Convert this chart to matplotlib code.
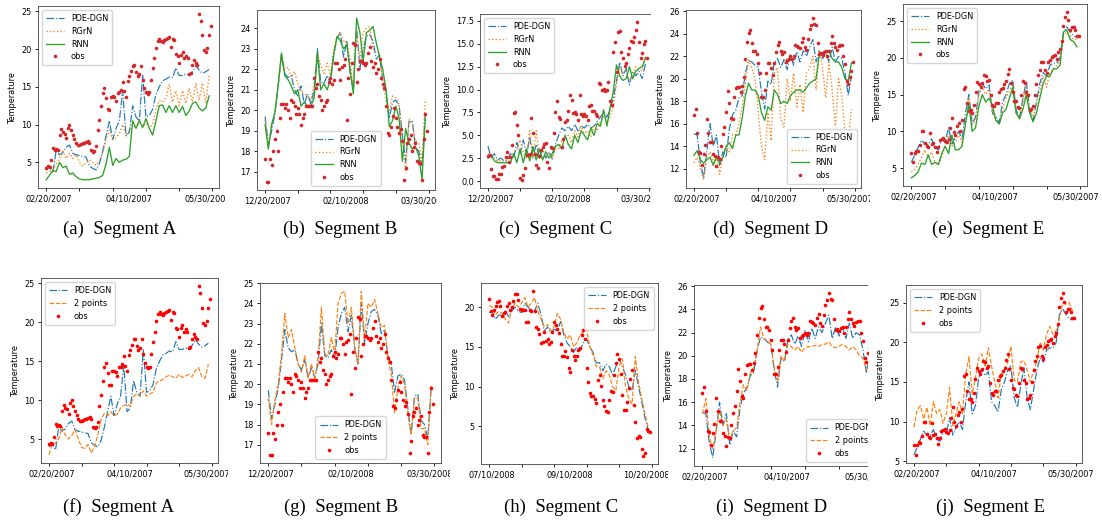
import numpy as np
import matplotlib
matplotlib.use("Agg")
import matplotlib.pyplot as plt
from matplotlib.transforms import Bbox, TransformedBbox

# daily observations (100 days) and model outputs (every second day)
days_obs = np.arange(100)
days_fit = np.arange(0, 100, 2)

# ---- Segment A (02/20/2007 - 05/30/2007)
a_obs = [4.3, 4.5, 4.4, 5.3, 6.9, 6.7, 6.8, 6.7, 8.6, 9.4,
         9.0, 8.8, 8.2, 9.6, 10.0, 9.3, 8.6, 8.1, 7.6, 7.3,
         7.3, 7.4, 7.6, 7.6, 7.7, 7.8, 7.6, 6.6, 6.4, 6.5,
         7.2, 9.3, 10.6, 12.4, 14.2, 14.8, 13.5, 12.0, 11.9, 13.7,
         13.8, 13.6, 13.1, 14.2, 14.3, 14.6, 15.7, 14.4, 13.7, 15.8,
         16.4, 17.1, 17.8, 17.9, 17.0, 16.4, 16.7, 17.8, 15.9, 14.8,
         14.3, 14.1, 14.3, 15.9, 17.5, 18.8, 20.1, 21.1, 21.3, 21.0,
         20.9, 21.2, 21.3, 21.5, 21.6, 20.3, 21.3, 21.2, 19.3, 19.1,
         18.1, 19.2, 19.6, 18.8, 19.1, 18.8, 16.7, 16.8, 17.9, 18.5,
         18.1, 17.9, 24.6, 23.7, 21.8, 19.9, 19.6, 20.2, 21.8, 23.0]
a_pde = [4.0, 4.4, 3.6, 6.6, 6.0, 6.3, 7.0, 7.3, 6.2, 6.0,
         5.9, 5.8, 5.7, 4.5, 4.2, 4.0, 4.8, 6.5, 8.5, 10.5,
         8.0, 9.5, 10.5, 14.5, 8.5, 9.0, 12.5, 11.0, 10.5, 16.5,
         11.0, 11.2, 12.0, 14.0, 15.0, 15.8, 16.0, 16.3, 16.2, 17.5,
         16.5, 16.5, 16.7, 16.5, 17.0, 17.8, 17.2, 16.8, 17.0, 17.3]
a_rgrn = [3.6, 3.8, 4.0, 4.8, 5.5, 6.5, 5.5, 6.2, 5.5, 6.0,
          5.0, 4.5, 5.0, 5.3, 5.0, 4.6, 5.2, 6.2, 8.0, 9.3,
          8.0, 8.3, 8.8, 10.0, 8.6, 9.2, 10.0, 9.5, 10.3, 9.7,
          10.2, 9.6, 10.0, 12.0, 13.2, 13.0, 13.5, 15.3, 13.0, 14.5,
          12.5, 14.5, 12.8, 14.8, 13.0, 15.5, 13.2, 15.5, 12.8, 16.5]
a_rnn = [2.7, 3.3, 3.9, 3.8, 5.0, 4.3, 4.5, 3.4, 3.6, 3.1,
         2.8, 2.7, 2.7, 2.7, 2.8, 2.9, 3.0, 3.3, 4.8, 7.0,
         4.6, 5.5, 5.0, 5.3, 5.4, 5.8, 10.5, 9.5, 10.6, 9.6,
         10.8, 9.5, 8.6, 10.5, 12.5, 12.6, 11.6, 12.5, 11.6, 12.5,
         11.6, 12.4, 11.2, 11.8, 12.8, 13.0, 12.2, 11.8, 12.2, 13.8]
a_two = [3.0, 4.4, 4.5, 5.0, 6.5, 5.5, 5.0, 5.5, 6.2, 5.0,
         3.9, 3.8, 4.3, 3.2, 4.0, 5.5, 7.5, 8.3, 8.0, 8.5,
         8.0, 8.2, 9.0, 9.3, 9.5, 9.2, 10.5, 10.8, 10.5, 11.2,
         10.5, 10.8, 11.0, 12.2, 12.5, 12.6, 13.0, 13.2, 13.0, 12.8,
         13.3, 12.9, 13.1, 13.3, 13.0, 13.8, 14.2, 13.0, 12.8, 14.6]

# ---- Segment B (12/20/2007 - 03/30/2008)
b_obs = [17.6, 16.5, 16.5, 17.6, 17.3, 18.0, 18.6, 19.0, 18.0, 19.6,
         20.3, 20.3, 20.1, 20.3, 20.0, 19.6, 20.5, 20.4, 20.2, 19.8,
         20.1, 19.8, 19.3, 19.6, 19.8, 20.2, 20.2, 20.2, 20.2, 20.2,
         21.6, 21.1, 21.3, 20.7, 20.5, 20.0, 20.2, 20.4, 20.5, 21.4,
         21.6, 21.3, 21.5, 22.3, 22.3, 22.0, 21.5, 22.1, 22.2, 22.5,
         19.5, 21.6, 20.8, 22.3, 23.3, 23.2, 21.4, 22.0, 22.4, 22.4,
         22.3, 22.2, 22.3, 22.8, 23.1, 22.4, 22.1, 22.3, 21.8, 22.0,
         22.5, 21.6, 21.3, 21.1, 20.2, 18.9, 18.8, 19.2, 19.7, 20.1,
         19.6, 19.2, 18.9, 19.1, 18.5, 16.6, 17.2, 18.4, 18.6, 18.8,
         18.0, 18.2, 18.4, 17.5, 17.4, 17.4, 16.6, 18.6, 19.8, 19.0]
b_pde = [19.7, 18.3, 19.0, 19.8, 21.2, 22.7, 21.8, 21.6, 21.7, 21.0,
         20.7, 21.2, 20.3, 20.8, 20.3, 21.0, 23.0, 21.4, 21.3, 21.7,
         21.3, 22.8, 23.5, 23.8, 22.6, 23.4, 21.8, 21.0, 24.0, 22.0,
         23.0, 23.6, 23.7, 23.4, 22.5, 22.7, 21.4, 21.0, 19.6, 20.4,
         20.5, 20.2, 18.8, 17.5, 19.4, 19.5, 18.2, 18.0, 17.3, 19.8]
b_rgrn = [19.5, 18.3, 19.3, 19.9, 21.3, 22.7, 22.0, 22.1, 21.6, 21.9,
          21.3, 20.9, 20.8, 20.7, 20.5, 21.3, 22.8, 22.2, 21.8, 22.3,
          21.7, 23.0, 23.6, 23.8, 23.3, 23.4, 22.5, 21.0, 23.9, 22.5,
          23.8, 24.0, 24.1, 23.0, 22.8, 22.8, 21.3, 20.5, 20.0, 20.7,
          20.6, 20.3, 18.5, 17.0, 19.6, 19.4, 18.5, 18.4, 17.5, 20.5]
b_rnn = [19.3, 18.1, 19.3, 19.9, 21.2, 22.8, 21.7, 21.5, 21.2, 20.8,
         21.0, 20.2, 20.4, 20.2, 20.2, 20.6, 22.8, 21.0, 21.3, 21.0,
         21.5, 22.7, 23.6, 23.4, 23.0, 23.2, 22.0, 20.8, 24.5, 23.8,
         22.4, 23.8, 23.9, 24.1, 23.3, 22.6, 22.0, 21.0, 19.2, 19.5,
         20.2, 19.6, 17.5, 19.1, 18.4, 18.1, 18.2, 17.8, 16.6, 19.6]
b_two = [19.3, 18.0, 19.2, 20.0, 21.5, 23.5, 22.3, 22.7, 21.8, 21.0,
         20.6, 21.4, 20.3, 21.0, 20.3, 21.3, 23.8, 21.5, 21.4, 22.3,
         21.5, 24.0, 24.5, 24.6, 23.0, 23.8, 21.9, 21.0, 24.6, 22.2,
         24.0, 23.8, 24.2, 23.5, 22.8, 22.9, 21.2, 20.5, 18.6, 19.8,
         20.4, 20.0, 18.5, 17.5, 19.3, 19.3, 17.8, 17.8, 17.0, 19.9]

# ---- Segment C, top row (12/20/2007 - 03/30/2008)
c_obs = [2.7, 2.8, 1.3, 0.5, 0.5, 0.2, 0.2, 0.8, 0.8, 1.5,
         1.6, 2.6, 3.2, 2.1, 2.6, 3.9, 7.4, 7.6, 6.1, 5.0,
         0.3, 0.1, 0.7, 1.4, 2.8, 2.8, 2.9, 6.9, 5.3, 3.0,
         1.7, 1.4, 2.7, 3.4, 3.7, 4.1, 4.2, 2.1, 1.4, 3.7,
         3.6, 5.2, 7.6, 8.8, 7.0, 6.8, 3.7, 4.6, 6.5, 6.7,
         7.7, 9.4, 8.9, 7.4, 7.6, 7.3, 6.7, 9.4, 7.3, 7.1,
         7.3, 7.1, 6.7, 8.2, 8.3, 7.7, 7.7, 7.3, 7.1, 10.7,
         10.6, 9.9, 10.1, 9.8, 10.0, 10.8, 8.8, 8.3, 14.1, 15.2,
         11.9, 16.3, 16.4, 14.1, 13.4, 12.6, 12.9, 13.9, 14.5, 15.3,
         15.2, 15.8, 16.5, 17.4, 15.2, 13.5, 14.0, 15.0, 15.3, 13.5]
c_pde = [3.8, 2.5, 3.0, 2.3, 2.5, 2.2, 2.3, 3.0, 2.5, 4.2,
         3.0, 4.5, 2.8, 4.8, 2.6, 4.0, 2.5, 3.5, 2.5, 3.2,
         2.4, 4.0, 5.0, 5.8, 5.5, 6.0, 5.5, 6.2, 5.5, 6.0,
         5.8, 6.2, 5.8, 6.0, 6.5, 7.0, 7.5, 7.0, 7.8, 9.0,
         11.0, 13.0, 11.5, 12.3, 10.5, 12.0, 11.5, 12.0, 11.2, 12.8]
c_rgrn = [3.0, 2.8, 2.5, 2.2, 2.2, 2.0, 2.2, 2.8, 3.0, 3.5,
          4.5, 3.0, 2.5, 5.5, 2.5, 5.5, 2.8, 2.5, 2.8, 3.0,
          2.5, 3.5, 3.5, 4.5, 4.5, 5.0, 4.2, 5.5, 4.8, 6.0,
          5.2, 5.5, 4.8, 6.0, 5.5, 6.5, 7.0, 6.5, 7.0, 8.2,
          10.5, 12.5, 11.8, 12.0, 11.0, 11.5, 12.5, 12.2, 12.0, 13.5]
c_rnn = [2.5, 2.8, 2.2, 2.0, 2.0, 2.0, 2.0, 2.0, 3.0, 2.0,
         3.5, 2.0, 3.5, 2.2, 3.8, 2.3, 3.5, 2.3, 3.2, 2.5,
         3.0, 3.8, 4.0, 3.5, 5.0, 4.0, 3.5, 5.0, 4.2, 5.5,
         5.0, 4.5, 5.8, 5.0, 6.3, 6.0, 7.8, 6.0, 8.0, 9.8,
         12.7, 11.5, 11.0, 11.2, 12.5, 11.2, 12.0, 12.3, 12.5, 13.5]

# ---- Segment C, bottom row (07/10/2008 - 10/20/2008)
h_obs = [21.0, 19.5, 19.0, 19.6, 20.2, 20.6, 20.8, 20.2, 18.9, 19.2,
         19.4, 20.2, 20.5, 19.6, 20.0, 20.8, 21.7, 21.6, 20.9, 19.8,
         19.7, 19.7, 19.6, 18.1, 18.1, 19.7, 19.5, 22.0, 19.5, 17.5,
         17.2, 16.6, 15.5, 15.6, 16.9, 15.8, 16.0, 15.4, 15.6, 16.9,
         18.1, 17.7, 17.3, 16.7, 15.4, 13.8, 13.8, 14.5, 13.7, 12.3,
         11.9, 14.6, 13.9, 13.4, 13.9, 14.6, 14.8, 16.5, 17.1, 16.0,
         12.4, 10.6, 9.2, 8.8, 8.8, 8.4, 8.0, 10.8, 11.5, 10.1,
         8.3, 7.5, 6.9, 6.8, 8.3, 9.4, 9.3, 11.5, 13.0, 14.1,
         13.5, 11.6, 9.0, 7.0, 7.1, 8.1, 9.8, 11.0, 12.1, 7.7,
         5.6, 3.5, 3.8, 3.7, 2.1, 1.3, 1.6, 4.7, 4.4, 4.3]
h_pde = [19.3, 19.5, 18.5, 19.0, 19.0, 19.5, 18.8, 19.5, 20.0, 19.5,
         19.3, 20.5, 20.0, 19.5, 19.5, 20.5, 19.0, 17.0, 17.5, 16.8,
         17.2, 17.0, 18.2, 16.5, 15.5, 15.0, 14.3, 15.0, 14.5, 15.5,
         16.0, 15.0, 14.3, 13.0, 13.0, 12.0, 12.8, 12.5, 11.5, 12.5,
         13.5, 12.5, 11.5, 10.0, 9.5, 12.0, 10.0, 8.0, 6.0, 4.5]
h_two = [20.2, 20.0, 19.0, 19.5, 19.2, 18.5, 18.0, 19.8, 20.5, 20.0,
         20.5, 21.2, 20.0, 20.5, 21.2, 19.5, 18.5, 17.5, 17.8, 17.0,
         17.5, 19.2, 18.5, 16.8, 16.0, 16.5, 15.0, 15.5, 16.5, 16.8,
         17.2, 15.0, 14.0, 12.5, 12.5, 11.0, 12.0, 11.5, 10.0, 9.5,
         12.5, 13.5, 10.0, 8.5, 7.8, 13.8, 10.5, 8.5, 6.5, 4.8]

# ---- Segment D (02/20/2007 - 05/30/2007)
d_obs = [16.8, 17.3, 15.2, 13.5, 13.4, 12.3, 13.3, 14.1, 16.4, 15.2,
         14.4, 14.4, 13.3, 13.1, 12.2, 13.0, 12.9, 14.0, 15.1, 15.7,
         17.0, 18.9, 17.8, 16.5, 16.4, 18.4, 19.2, 19.3, 19.3, 18.8,
         19.4, 20.2, 21.8, 23.3, 24.1, 24.3, 23.2, 22.5, 22.5, 22.2,
         21.4, 20.5, 18.4, 18.4, 19.0, 20.5, 21.4, 21.4, 21.0, 20.3,
         21.4, 22.4, 23.0, 23.3, 22.5, 22.2, 22.4, 21.5, 21.7, 21.8,
         22.0, 21.8, 22.0, 23.0, 22.9, 22.8, 22.7, 23.3, 23.6, 22.8,
         22.6, 23.5, 24.4, 24.8, 25.4, 24.9, 24.8, 23.2, 22.2, 22.3,
         22.1, 22.4, 22.5, 22.0, 22.5, 23.2, 23.8, 23.2, 22.8, 22.6,
         22.9, 23.0, 23.0, 22.0, 21.3, 19.8, 19.5, 20.2, 20.7, 21.5]
d_pde = [15.1, 15.0, 12.5, 11.2, 13.5, 16.0, 14.0, 15.0, 12.3, 13.5,
         13.0, 15.5, 16.8, 17.2, 18.3, 18.5, 20.5, 21.6, 21.5, 21.2,
         21.0, 18.8, 17.3, 19.8, 19.5, 21.4, 21.8, 21.0, 21.7, 20.8,
         22.2, 21.2, 22.4, 21.5, 22.5, 22.0, 22.8, 23.5, 21.5, 22.5,
         21.7, 22.5, 21.5, 22.8, 21.5, 22.0, 21.8, 20.5, 18.5, 20.3]
d_rgrn = [12.5, 13.0, 12.0, 11.0, 13.0, 13.5, 12.5, 13.2, 11.5, 13.0,
          14.0, 13.5, 15.0, 15.0, 16.0, 17.5, 19.5, 21.7, 21.0, 20.0,
          17.0, 14.0, 12.8, 17.0, 14.5, 20.5, 21.0, 16.5, 15.7, 20.0,
          18.0, 20.5, 17.5, 19.5, 17.0, 20.5, 21.0, 22.0, 19.0, 22.5,
          21.0, 18.3, 21.5, 19.0, 15.8, 20.0, 18.5, 15.2, 14.5, 17.3]
d_rnn = [13.2, 13.6, 12.8, 12.5, 12.8, 13.0, 12.3, 13.0, 12.5, 13.0,
         14.0, 14.3, 13.8, 15.0, 15.0, 16.5, 18.5, 19.6, 19.0, 19.0,
         18.5, 17.0, 16.3, 17.5, 17.2, 19.0, 18.6, 17.8, 18.0, 17.8,
         18.5, 18.8, 19.0, 19.0, 18.8, 19.2, 19.6, 19.8, 20.0, 22.2,
         22.3, 22.3, 22.5, 21.8, 21.5, 21.5, 21.0, 20.0, 19.8, 21.4]
d_two = [15.0, 16.3, 13.0, 12.0, 13.5, 15.3, 14.0, 14.5, 12.8, 13.5,
         13.8, 16.0, 17.5, 17.0, 18.5, 19.0, 20.5, 22.5, 21.5, 21.3,
         21.0, 19.0, 17.8, 20.0, 19.5, 21.0, 20.8, 20.5, 20.8, 20.3,
         20.7, 20.8, 20.8, 20.9, 20.8, 21.0, 21.0, 21.2, 20.8, 20.7,
         20.8, 21.0, 20.8, 20.5, 20.8, 20.5, 20.0, 19.8, 18.8, 19.6]

# ---- Segment E (02/20/2007 - 05/30/2007)
e_obs = [7.0, 5.8, 7.0, 7.4, 7.3, 8.2, 10.0, 10.0, 8.4, 8.0,
         7.9, 9.8, 8.3, 8.4, 7.9, 7.2, 7.9, 8.8, 8.9, 9.1,
         8.7, 8.6, 9.0, 10.5, 11.8, 9.9, 9.5, 10.8, 11.2, 10.0,
         11.6, 15.8, 16.0, 13.9, 12.8, 12.9, 12.5, 13.6, 15.4, 16.7,
         16.4, 16.0, 16.6, 17.7, 17.5, 16.8, 17.0, 14.9, 13.6, 13.4,
         13.9, 13.8, 15.3, 15.7, 15.9, 16.4, 16.8, 17.8, 18.5, 16.6,
         15.3, 14.2, 14.1, 13.3, 13.2, 14.9, 16.8, 16.6, 15.3, 14.9,
         12.9, 13.0, 13.4, 15.0, 16.5, 17.7, 18.3, 19.4, 19.5, 18.3,
         17.9, 19.4, 19.7, 20.1, 20.3, 20.4, 19.9, 20.8, 21.2, 22.3,
         24.4, 25.6, 26.2, 25.1, 23.8, 24.2, 24.2, 23.8, 23.0, 23.0]
e_pde = [5.8, 6.8, 7.8, 8.8, 8.3, 8.2, 9.0, 7.8, 7.5, 9.0,
         8.5, 10.5, 8.3, 9.2, 10.0, 9.0, 12.5, 15.0, 11.0, 12.0,
         15.5, 16.5, 15.8, 16.3, 12.5, 12.0, 11.2, 14.0, 15.0, 16.5,
         17.0, 13.0, 11.8, 14.5, 16.8, 13.0, 11.5, 14.0, 16.5, 18.0,
         17.5, 19.0, 19.3, 19.3, 20.0, 23.5, 24.2, 23.5, 23.0, 22.8]
e_rgrn = [4.5, 4.8, 5.5, 6.5, 7.5, 6.5, 7.2, 5.8, 5.5, 6.5,
          8.0, 9.5, 8.0, 8.5, 9.5, 8.5, 11.0, 14.5, 11.0, 11.5,
          15.0, 16.0, 15.0, 15.8, 12.5, 11.5, 11.0, 13.0, 14.5, 15.5,
          16.5, 12.5, 12.0, 14.0, 16.0, 13.0, 12.0, 13.5, 15.5, 17.5,
          16.0, 18.0, 18.5, 19.0, 19.5, 23.0, 23.5, 23.0, 22.5, 22.5]
e_rnn = [3.7, 4.0, 4.5, 5.7, 5.5, 6.8, 5.5, 5.8, 5.5, 7.0,
         8.0, 7.0, 9.5, 7.5, 7.5, 8.0, 11.0, 13.7, 10.0, 10.5,
         13.5, 15.0, 14.0, 14.5, 13.5, 11.5, 11.0, 12.5, 13.0, 14.5,
         16.0, 12.5, 11.7, 13.0, 15.0, 12.5, 11.3, 12.5, 14.5, 16.5,
         17.5, 17.5, 18.5, 18.5, 19.0, 23.5, 23.8, 22.5, 22.2, 21.5]
e_two = [9.3, 11.5, 12.0, 10.3, 11.8, 9.5, 12.5, 11.0, 11.5, 9.8,
         11.0, 14.3, 9.5, 11.0, 12.5, 11.0, 16.0, 18.2, 13.5, 15.5,
         18.0, 18.5, 17.0, 19.3, 17.0, 15.0, 13.0, 16.0, 16.5, 17.5,
         19.5, 15.2, 15.0, 17.5, 17.7, 16.5, 15.0, 16.5, 17.5, 20.0,
         19.0, 21.0, 22.0, 21.0, 21.5, 23.0, 25.0, 24.8, 25.0, 24.0]

date_labels_07 = ["02/20/2007", "04/10/2007", "05/30/2007"]
date_labels_08 = ["12/20/2007", "02/10/2008", "03/30/2008"]
date_labels_c2 = ["07/10/2008", "09/10/2008", "10/20/2008"]

W, H = 1102, 522
fig = plt.figure(figsize=(W / 100, H / 100), dpi=100)
FS = 5.9


def make_panel(box, crop, obs, fits, xlabels, yticks, loc, obs_color, caption):
    l, t, r, b = box
    ax = fig.add_axes([l / W, 1 - b / H, (r - l) / W, (b - t) / H])
    for name, vals, ls, col, lw in fits:
        ax.plot(days_fit, vals, ls=ls, color=col, lw=lw, label=name)
    ax.plot(days_obs, obs, ls="none", marker="o", ms=2.6, mew=0,
            color=obs_color, label="obs")
    ax.set_xticks([1.5, 49.5, 97], xlabels)
    ax.set_xticks([0, 20, 40, 60, 80, 100], minor=True)
    ax.tick_params(axis="x", which="major", length=0, pad=5, labelsize=FS)
    ax.tick_params(axis="x", which="minor", length=2.5, width=0.6)
    ax.set_yticks(yticks)
    ax.tick_params(axis="y", length=2.5, width=0.6, pad=2, labelsize=FS)
    ax.set_ylabel("Temperature", fontsize=FS, labelpad=3)
    for sp in ax.spines.values():
        sp.set_linewidth(0.6)
        sp.set_color("#444444")
    ax.legend(loc=loc, fontsize=FS, handlelength=2.2, borderpad=0.5,
              labelspacing=0.45)

    # each panel in the reference is a cropped picture: clip at crop edges
    x0, x1, y0, y1 = crop
    cbox = Bbox.from_extents(x0 / W, 1 - y1 / H, x1 / W, 1 - y0 / H)
    inner = Bbox.intersection(ax.get_position(), cbox)
    clip_in = TransformedBbox(inner, fig.transFigure)
    clip_out = TransformedBbox(cbox, fig.transFigure)
    for art in ax.findobj():
        if art is ax:
            continue
        if art in ax.lines or art is ax.patch:
            art.set_clip_box(clip_in)
        else:
            art.set_clip_on(True)
            art.set_clip_box(clip_out)

    fig.text(caption[1] / W, 1 - caption[2] / H, caption[0], ha="center",
             va="center", family="Liberation Serif", fontsize=13.5)
    return ax


blue, orange, green = "#1f77b4", "#ff7f0e", "#2ca02c"


def top_fits(pde, rgrn, rnn):
    return [("PDE-DGN", pde, "-.", blue, 0.85),
            ("RGrN", rgrn, ":", orange, 0.95),
            ("RNN", rnn, "-", green, 0.95)]


def bottom_fits(pde, two):
    return [("PDE-DGN", pde, "-.", blue, 0.85),
            ("2 points", two, "--", orange, 0.85)]


top_obs = "#d62728"
make_panel((38, 6, 219, 188), (0, 226, 0, 261), a_obs,
           top_fits(a_pde, a_rgrn, a_rnn), date_labels_07, [5, 10, 15, 20, 25],
           "upper left", top_obs, ("(a)  Segment A", 120, 229))
make_panel((257, 10, 435, 190), (226, 437, 0, 261), b_obs,
           top_fits(b_pde, b_rgrn, b_rnn), date_labels_08,
           [17, 18, 19, 20, 21, 22, 23, 24],
           "lower center", top_obs, ("(b)  Segment B", 340, 229))
make_panel((480, 14, 655, 188), (438, 651, 0, 261), c_obs,
           top_fits(c_pde, c_rgrn, c_rnn), date_labels_08,
           [0, 2.5, 5, 7.5, 10, 12.5, 15, 17.5],
           "upper left", top_obs, ("(c)  Segment C", 556, 229))
make_panel((686, 10, 861, 188), (652, 870, 0, 261), d_obs,
           top_fits(d_pde, d_rgrn, d_rnn), date_labels_07,
           [12, 14, 16, 18, 20, 22, 24, 26],
           "lower right", top_obs, ("(d)  Segment D", 771, 229))
make_panel((903, 4, 1087, 186), (866, 1102, 0, 261), e_obs,
           top_fits(e_pde, e_rgrn, e_rnn), date_labels_07, [5, 10, 15, 20, 25],
           "upper left", top_obs, ("(e)  Segment E", 988, 229))

make_panel((41, 278, 218, 463), (0, 228, 261, 522), a_obs,
           bottom_fits(a_pde, a_two), date_labels_07, [5, 10, 15, 20, 25],
           "upper left", "red", ("(f)  Segment A", 119, 507))
make_panel((260, 283, 441, 463), (228, 450, 261, 522), b_obs,
           bottom_fits(b_pde, b_two), date_labels_08,
           [17, 18, 19, 20, 21, 22, 23, 24, 25],
           "lower center", "red", ("(g)  Segment B", 341, 507))
make_panel((481, 283, 658, 464), (446, 668, 261, 522), h_obs,
           bottom_fits(h_pde, h_two), date_labels_c2, [5, 10, 15, 20],
           "upper right", "red", ("(h)  Segment C", 561, 507))
make_panel((694, 285, 880, 466), (660, 868, 261, 522), d_obs,
           bottom_fits(d_pde, d_two), date_labels_07,
           [12, 14, 16, 18, 20, 22, 24, 26],
           "lower right", "red", ("(i)  Segment D", 772, 507))
make_panel((906, 285, 1082, 463), (868, 1102, 261, 522), e_obs,
           bottom_fits(e_pde, e_two), date_labels_07, [5, 10, 15, 20, 25],
           "upper left", "red", ("(j)  Segment E", 991, 507))

fig.savefig("out.png", dpi=100)
